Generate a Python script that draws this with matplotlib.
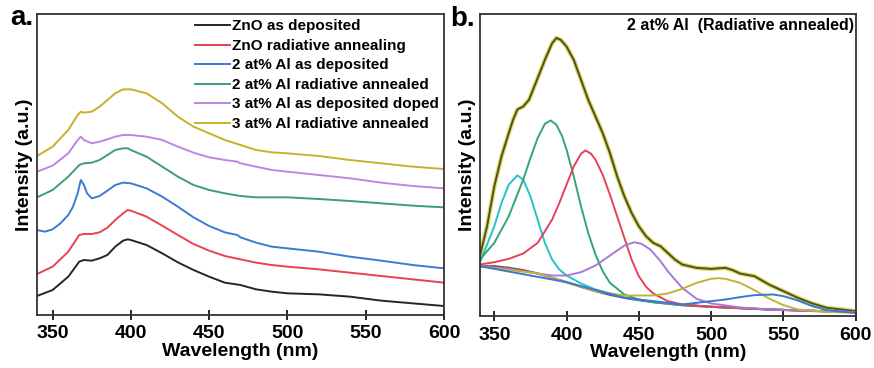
import matplotlib
matplotlib.use("Agg")
import matplotlib.pyplot as plt

plt.rcParams["font.family"] = ["Liberation Sans", "DejaVu Sans"]
plt.rcParams["font.weight"] = "bold"

# ---- panel a: PL spectra, offset for clarity ----
wl_zno_dep = [340, 350, 360, 367, 370, 375, 380, 385, 390, 395, 398, 400, 410, 420, 430,
              440, 450, 460, 470, 480, 490, 500, 520, 540, 560, 580, 600]
zno_dep = [57, 75, 115, 160, 165, 163, 170, 180, 205, 223, 227, 225, 210, 185, 158,
           135, 115, 97, 90, 77, 70, 65, 62, 55, 43, 35, 27]

wl_zno_ann = wl_zno_dep
zno_ann = [123, 145, 190, 240, 243, 243, 248, 262, 285, 305, 315, 313, 295, 268, 240,
           213, 193, 177, 167, 157, 150, 145, 137, 127, 117, 107, 97]

wl_al2_dep = [340, 345, 350, 355, 360, 363, 366, 368, 370, 372, 375, 380, 385, 390, 395,
              400, 410, 420, 430, 440, 450, 460, 468, 470, 480, 490, 500, 520, 540, 560,
              580, 600]
al2_dep = [255, 250, 257, 275, 300, 325, 365, 405, 390, 365, 350, 357, 373, 390, 397,
           395, 380, 355, 325, 293, 267, 248, 240, 233, 217, 205, 200, 190, 175, 163,
           150, 140]

wl_al2_ann = wl_zno_dep
al2_ann = [353, 375, 415, 450, 455, 457, 465, 480, 495, 500, 500, 495, 475, 445, 415,
           390, 375, 365, 357, 353, 353, 353, 348, 342, 335, 328, 323]

wl_al3_dep = [340, 350, 360, 366, 368, 370, 375, 380, 385, 390, 395, 400, 410, 420, 430,
              440, 450, 460, 468, 470, 480, 490, 500, 520, 540, 560, 580, 600]
al3_dep = [430, 448, 485, 525, 535, 525, 515, 520, 527, 535, 540, 540, 535, 525, 505,
           487, 473, 465, 460, 455, 445, 435, 430, 420, 410, 397, 387, 380]

wl_al3_ann = [340, 350, 360, 366, 368, 370, 375, 380, 385, 390, 395, 400, 410, 420, 430,
              440, 450, 460, 470, 480, 490, 500, 520, 540, 560, 580, 600]
al3_ann = [477, 505, 555, 600, 610, 607, 610, 625, 645, 665, 677, 677, 665, 635, 595,
           565, 545, 525, 510, 495, 488, 485, 477, 465, 455, 445, 438]

labels_a = ["ZnO as deposited", "ZnO radiative annealing", "2 at% Al as deposited",
            "2 at% Al radiative annealed", "3 at% Al as deposited doped",
            "3 at% Al radiative annealed"]
colors_a = ["#262626", "#e8434f", "#3b7bd4", "#3e9e74", "#c084e4", "#c9b02a"]

# ---- panel b: deconvolution of the 2 at% Al annealed spectrum ----
wl_total = [340, 345, 350, 355, 360, 363, 366, 370, 374, 380, 385, 390, 393, 396, 400,
            405, 410, 415, 420, 425, 430, 435, 440, 445, 450, 455, 460, 465, 470, 475,
            480, 490, 500, 510, 515, 520, 530, 540, 550, 560, 570, 580, 590, 600]
total = [180, 270, 390, 480, 550, 590, 621, 630, 650, 715, 770, 820, 836, 830, 810,
         770, 710, 650, 600, 550, 490, 420, 360, 310, 270, 240, 220, 210, 190, 170,
         155, 145, 142, 145, 138, 128, 120, 95, 75, 55, 38, 25, 20, 15]

wl_base = [340, 350, 360, 370, 380, 390, 400, 410, 420, 430, 440, 450, 460, 480, 500,
           520, 540, 560, 580, 600]
base = [150, 150, 145, 138, 128, 115, 102, 88, 75, 64, 55, 48, 42, 33, 28,
        24, 20, 17, 14, 12]

wl_p1 = [340, 350, 355, 360, 366, 370, 375, 380, 385, 390, 395, 400, 410, 420, 440,
         460, 500, 540, 600]
p1 = [160, 270, 340, 395, 423, 410, 360, 290, 220, 170, 140, 122, 98, 80, 56,
      42, 28, 20, 12]

wl_p2 = [340, 350, 360, 370, 375, 380, 385, 389, 393, 397, 400, 405, 410, 415, 420,
         425, 430, 440, 450, 460, 480, 500, 540, 600]
p2 = [170, 220, 300, 410, 475, 535, 578, 588, 575, 540, 500, 420, 330, 250, 185,
      135, 100, 65, 50, 42, 33, 28, 20, 12]

wl_p3 = [340, 350, 360, 370, 380, 390, 395, 400, 405, 410, 413, 417, 420, 425, 430,
         435, 440, 445, 450, 455, 460, 470, 480, 500, 540, 600]
p3 = [155, 162, 172, 188, 220, 290, 340, 395, 450, 488, 498, 488, 470, 425, 365,
      300, 235, 170, 120, 88, 68, 45, 35, 28, 20, 12]

wl_p4 = [340, 360, 380, 390, 400, 410, 420, 430, 440, 447, 452, 458, 465, 470, 480,
         490, 500, 520, 540, 600]
p4 = [150, 142, 128, 122, 122, 132, 152, 182, 212, 222, 217, 200, 165, 135, 85,
      52, 38, 26, 20, 12]

wl_p5 = [340, 380, 420, 440, 460, 470, 480, 490, 500, 505, 510, 520, 530, 540, 550,
         560, 580, 600]
p5 = [150, 128, 75, 62, 62, 68, 82, 100, 112, 114, 112, 100, 78, 53, 33,
      20, 13, 10]

wl_p6 = [340, 400, 440, 480, 490, 500, 510, 520, 530, 543, 550, 560, 570, 580, 590, 600]
p6 = [150, 102, 55, 35, 40, 45, 50, 57, 63, 65, 60, 47, 30, 18, 13, 10]

fig = plt.figure(figsize=(8.74, 3.68), dpi=100)
ax1 = fig.add_axes([0.0423, 0.144, 0.4657, 0.818])
ax2 = fig.add_axes([0.549, 0.141, 0.430, 0.821])

series_a = [(wl_zno_dep, zno_dep), (wl_zno_ann, zno_ann), (wl_al2_dep, al2_dep),
            (wl_al2_ann, al2_ann), (wl_al3_dep, al3_dep), (wl_al3_ann, al3_ann)]
for (x, y), c, lab in zip(series_a, colors_a, labels_a):
    ax1.plot(x, y, color=c, lw=1.4, label=lab)

ax1.legend(loc="upper left", bbox_to_anchor=(0.388, 0.982), frameon=False,
           fontsize=11, handlelength=2.3, handletextpad=0.15, labelspacing=0.36,
           borderpad=0, borderaxespad=0)

ax2.plot(wl_total, total, color="#d6cf3c", lw=3.2, alpha=0.8)
ax2.plot(wl_total, total, color="#4b5222", lw=1.4)
ax2.plot(wl_base, base, color="#7b4f5f", lw=1.6)
comps = [(wl_p1, p1, "#22c4c8"), (wl_p2, p2, "#35a476"), (wl_p3, p3, "#e6415a"),
         (wl_p4, p4, "#a878d8"), (wl_p5, p5, "#c2b23a"), (wl_p6, p6, "#3a78d2")]
for x, y, c in comps:
    ax2.plot(x, y, color=c, lw=1.4)

ax2.text(0.995, 0.962, "2 at% Al  (Radiative annealed)", transform=ax2.transAxes,
         ha="right", va="center", fontsize=11.5, fontweight="bold")

ax1.set_ylim(0, 903)
ax2.set_ylim(0, 908)
for ax, tag, dx in [(ax1, "a.", -0.065), (ax2, "b.", -0.08)]:
    ax.set_xlim(340, 600)
    ax.set_xticks([350, 400, 450, 500, 550, 600])
    ax.set_yticks([])
    ax.tick_params(axis="x", direction="inout", length=7, width=1.2,
                   labelsize=14, pad=4)
    for lbl in ax.get_xticklabels():
        lbl.set_fontweight("bold")
    for s in ax.spines.values():
        s.set_linewidth(1.3)
        s.set_color("#333333")
    ax.set_xlabel("Wavelength (nm)", fontsize=14, fontweight="bold", labelpad=0.5)
    ax.set_ylabel("Intensity (a.u.)", fontsize=14, fontweight="bold", labelpad=3)
    ax.text(dx, 0.985, tag, transform=ax.transAxes, fontsize=20,
            fontweight="bold", ha="left", va="center")

fig.savefig("out.png", dpi=100)
